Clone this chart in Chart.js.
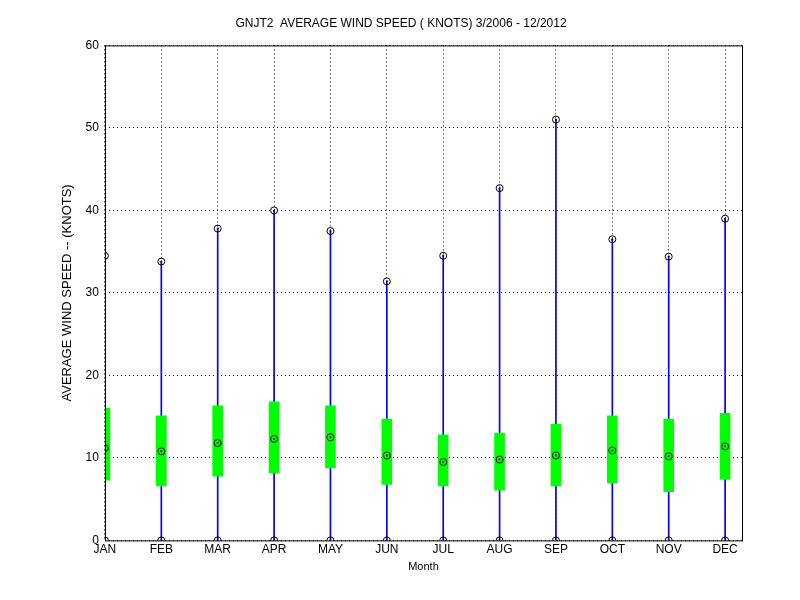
<!DOCTYPE html>
<html><head><meta charset="utf-8">
<script src="https://cdn.jsdelivr.net/npm/chart.js@4/dist/chart.umd.min.js"></script>
<style>body{margin:0;background:#fff}#w{width:800px;height:600px}</style>
</head><body><div id="w"><canvas id="c"></canvas></div>
<script>
const months=['JAN','FEB','MAR','APR','MAY','JUN','JUL','AUG','SEP','OCT','NOV','DEC'];
const maxV=[34.5,33.8,37.8,40,37.5,31.4,34.5,42.7,51,36.5,34.4,39];
const minV=[0,0,0,0,0,0,0,0,0,0,0,0];
const meanV=[11.2,10.8,11.8,12.3,12.5,10.3,9.5,9.8,10.3,10.9,10.2,11.4];
const boxLo=[7.3,6.6,7.8,8.2,8.8,6.8,6.6,6.1,6.6,7.0,5.9,7.4];
const boxHi=[16.0,15.1,16.3,16.8,16.3,14.7,12.8,13.0,14.1,15.1,14.7,15.4];
const yTicks=[0,10,20,30,40,50,60];
const idx=months.map((m,i)=>i+1);
const pts=[];idx.forEach((x,i)=>{pts.push({x,y:maxV[i]},{x,y:minV[i]},{x,y:meanV[i]});});
const F={family:'Liberation Sans, Arial',size:12};
const frame={id:'frame',afterDraw(c){const a=c.chartArea,x=c.ctx;x.save();x.strokeStyle='#000';x.lineWidth=1;x.strokeRect(a.left+.5,a.top+.5,a.right-a.left,a.bottom-a.top);x.restore();}};
new Chart(document.getElementById('c'),{
 data:{datasets:[
  {type:'bar',data:idx.map((x,i)=>({x,y:[minV[i],maxV[i]]})),backgroundColor:'#0000ff',barThickness:1,grouped:false,order:3},
  {type:'bar',data:idx.map((x,i)=>({x,y:[boxLo[i],boxHi[i]]})),backgroundColor:'#00ff00',barThickness:10,grouped:false,order:2},
  {type:'scatter',data:pts,pointRadius:3.5,pointBorderColor:'#000',pointBackgroundColor:'rgba(0,0,0,0)',pointBorderWidth:1,order:1},
  {type:'scatter',data:pts,pointRadius:1,pointBorderWidth:0,pointBackgroundColor:'#000',order:0}
 ]},
 options:{responsive:true,maintainAspectRatio:false,animation:false,
  layout:{padding:{right:58,left:60,bottom:26}},
  plugins:{legend:{display:false},tooltip:{enabled:false},
   title:{display:true,text:'GNJT2  AVERAGE WIND SPEED ( KNOTS) 3/2006 - 12/2012',color:'#000',font:{...F,weight:'normal'},padding:{top:16,bottom:15}}},
  scales:{
   x:{type:'linear',offset:false,min:1,max:12.3,afterBuildTicks(s){s.ticks=idx.map(v=>({value:v}));},
    ticks:{callback:v=>months[v-1],color:'#000',font:F,maxRotation:0,autoSkip:false,padding:2},
    grid:{color:'#000',lineWidth:1,drawTicks:false,offset:false},border:{display:false,dash:[1,3]},
    title:{display:true,text:'Month',color:'#000',font:{...F,size:11},padding:{top:2,bottom:0}}},
   y:{min:0,max:60,afterBuildTicks(s){s.ticks=yTicks.map(v=>({value:v}));},
    ticks:{color:'#000',font:F,padding:6},
    grid:{color:'#000',lineWidth:1,drawTicks:false},border:{display:false,dash:[1,3]},
    title:{display:true,text:'AVERAGE WIND SPEED -- (KNOTS)',color:'#000',font:{...F,size:13},padding:{top:0,bottom:4}}}
  }},
 plugins:[frame]
});
</script></body></html>
